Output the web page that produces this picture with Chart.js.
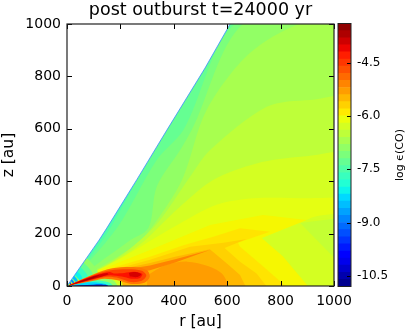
<!DOCTYPE html>
<html>
<head>
<meta charset="utf-8">
<script src="https://cdn.jsdelivr.net/npm/chart.js@4"></script>
<style>
  html, body { margin: 0; padding: 0; background: #fff; }
  #wrap { position: relative; width: 411px; height: 331px; overflow: hidden; }
  canvas { position: absolute; top: 0; }
  #field { left: 0; }
  #bar { left: 330px; }
</style>
</head>
<body>
<div id="wrap">
  <canvas id="field" width="401" height="331"></canvas>
  <canvas id="bar" width="81" height="331"></canvas>
</div>
<script>
const axisTicks = [0, 200, 400, 600, 800, 1000];
const barTicks = [-10.5, -9.0, -7.5, -6.0, -4.5];
const barLevels = [-10.7, -10.5, -10.3, -10.1, -9.9, -9.7, -9.5, -9.3, -9.1, -8.9, -8.7, -8.5, -8.3,
  -8.1, -7.9, -7.7, -7.5, -7.3, -7.1, -6.9, -6.7, -6.5, -6.3, -6.1, -5.9, -5.7, -5.5, -5.3, -5.1,
  -4.9, -4.7, -4.5, -4.3, -4.1, -3.9, -3.7, -3.5];

// the empty corner above the wedge, and its thin blue rim
const wedgeEdge = [[0, 0], [120, 175], [149, 221], [261, 405], [374, 595], [517, 832], [611, 1000]];
const emptyCorner = [...wedgeEdge, [611, 1100], [-50, 1100], [-50, 0]];

// filled contours, low to high, each painted over the one before
const ground = [[-10, -10], [1100, -10], [1100, 1100], [-10, 1100]];
const arc73 = [[0, 0], [140, 185], [260, 400], [350, 560], [625, 1010], [1100, 1010], [1100, 0]];
const arc71 = [[0, 0], [187, 221], [336, 481], [436, 595], [642, 1010], [1100, 1010], [1100, 0]];
const arc69 = [[0, 0], [230, 170], [305, 221], [336, 379], [424, 519], [467, 595], [673, 1010], [1100, 1010], [1100, 0]];
const arc67 = [[0, 0], [260, 160], [370, 300], [436, 417], [523, 672], [685, 889], [897, 1010], [1100, 1010], [1100, 0]];
const arc65 = [[0, 0], [180, 100], [330, 230], [461, 417], [536, 519], [748, 684], [910, 710], [1100, 710], [1100, 0]];
const arc63 = [[0, 0], [250, 140], [420, 300], [547, 405], [710, 468], [885, 494], [1100, 494], [1100, 0]];
const arc61 = [[0, 0], [200, 105], [400, 225], [560, 310], [700, 335], [900, 335], [1100, 330], [1100, 290], [897, 252], [810, 112], [910, -10], [0, -10]];
const rightWedge63 = [[729, 183], [897, 252], [1100, 270], [1100, -10], [910, -10], [810, 112]];
const rightWedge65 = [[873, 240], [1100, 270], [1100, 60], [997, 112]];
const arc59 = [[0, 0], [124, 61], [311, 137], [536, 233], [734, 271], [897, 252], [729, 183], [810, 112], [910, -10], [0, -10]];

// low fan around the origin, above the disk
const fan69 = [[125, 0], [112, 62], [75, 106], [38, 137], [0, 150]];
const fan73 = [[105, 0], [94, 52], [63, 89], [31, 115], [0, 126]];
const fan77 = [[85, 0], [76, 42], [51, 72], [25, 93], [0, 102]];
const fan81 = [[65, 0], [58, 32], [39, 55], [19, 71], [0, 78]];
const fan85 = [[45, 0], [40, 22], [27, 38], [13, 49], [0, 54]];
const fan89 = [[30, 0], [27, 15], [18, 25], [9, 33], [0, 36]];
const fan95 = [[18, 0], [16, 9], [11, 15], [5, 20], [0, 22]];

// disk surface and the warm dome under it
const disk57 = [[0, 0], [124, 55], [311, 112], [436, 156], [548, 188], [648, 220], [760, 207], [640, 165], [648, 150], [735, 74], [829, -10], [0, -10]];
const disk55 = [[0, 0], [150, 55], [311, 100], [461, 150], [586, 165], [673, 179], [590, 145], [648, 93], [710, 48], [754, -10], [0, -10]];
const disk53 = [[0, 0], [160, 55], [311, 88], [405, 112], [535, 140], [600, 85], [648, 42], [673, -10], [0, -10]];
const dome51 = [[300, 40], [370, 80], [450, 93], [530, 75], [585, 42], [598, -10], [300, -10]];
const streak51 = [[0, 0], [170, 55], [311, 78], [405, 102], [535, 137], [405, 90], [311, 60], [0, 0]];

// cold gap under the disk, near the midplane
const under63 = [[0, 0], [130, 35], [190, 40], [205, -10], [0, -10]];
const under69 = [[0, 0], [130, 28], [175, 20], [190, -10], [0, -10]];
const under77 = [[0, 0], [100, 22], [160, 12], [175, -10], [0, -10]];
const under83 = [[0, 0], [80, 14], [145, 8], [165, -10], [0, -10]];
const under103 = [[0, 0], [100, 5], [150, 3], [160, -10], [0, -10]];

// hot streak and blob
const hot49 = [[0, 0], [100, 45], [170, 68], [260, 72], [300, 60], [310, 35], [290, 12], [240, 8], [190, 22], [140, 28], [100, 20]];
const hot45 = [[0, 0], [100, 42], [165, 60], [230, 64], [280, 58], [297, 40], [280, 20], [240, 15], [195, 30], [150, 35], [100, 24]];
const hot41 = [[0, 0], [100, 39], [160, 53], [175, 48], [215, 50], [250, 54], [282, 46], [272, 30], [240, 28], [205, 36], [160, 41], [100, 27]];
const hot39 = [[0, 0], [100, 38], [150, 50], [155, 44], [100, 28]];
const blob39 = [[232, 50], [258, 53], [278, 44], [262, 34], [235, 36]];
const hot37 = [[0, 0], [100, 36], [120, 40], [100, 30]];

const bandShapes = [ground, arc73, arc71, arc69, arc67, arc65, arc63, arc61, rightWedge63, rightWedge65, arc59,
  fan69, fan73, fan77, fan81, fan85, fan89, fan95,
  disk57, disk55, disk53, dome51, streak51,
  under63, under69, under77, under83, under103,
  hot49, hot45, hot41, hot39, blob39, hot37];
const bandLevels = [-7.5, -7.3, -7.1, -6.9, -6.7, -6.5, -6.3, -6.15, -6.3, -6.45, -6.0,
  -6.9, -7.3, -7.7, -8.1, -8.5, -8.9, -9.5,
  -5.85, -5.7, -5.5, -5.3, -5.1,
  -6.3, -6.9, -7.7, -8.3, -10.3,
  -5.0, -4.6, -4.2, -3.95, -3.95, -3.7];
const sharpShapes = [ground, rightWedge63, rightWedge65, arc59, disk57, disk55, disk53, streak51];

// jet colours
function jet(level) {
  const t = (level + 10.8) / 7.4;
  const r = Math.min(1, Math.max(0, t < 0.89 ? (t - 0.35) / 0.31 : 1 - (t - 0.89) / 0.22));
  const g = Math.min(1, Math.max(0, t < 0.375 ? (t - 0.125) / 0.25 : (0.91 - t) / 0.27));
  const b = Math.min(1, Math.max(0, t < 0.11 ? 0.5 + t / 0.22 : (0.65 - t) / 0.31));
  return `rgb(${Math.round(r * 255)},${Math.round(g * 255)},${Math.round(b * 255)})`;
}

const toPoints = (pairs) => pairs.map(([x, y]) => ({ x, y }));

const datasets = bandShapes.map((shape, i) => ({
  data: toPoints(shape),
  showLine: true,
  fill: "shape",
  backgroundColor: jet(bandLevels[i]),
  borderWidth: 0,
  pointRadius: 0,
  tension: sharpShapes.includes(shape) ? 0 : 0.3,
  order: 1000 - i,
}));
datasets.push({
  data: toPoints(emptyCorner),
  showLine: true,
  fill: "shape",
  backgroundColor: "#ffffff",
  borderWidth: 0,
  pointRadius: 0,
  order: 3,
});
datasets.push({
  data: toPoints(wedgeEdge),
  showLine: true,
  fill: false,
  borderColor: "#3c8cff",
  borderWidth: 0.8,
  pointRadius: 0,
  order: 2,
});

const fontFamily = "'DejaVu Sans'";

const frame = {
  id: "frame",
  afterDraw(chart) {
    const { ctx, chartArea: a, scales } = chart;
    ctx.save();
    ctx.strokeStyle = "#000";
    ctx.lineWidth = 1;
    axisTicks.forEach((v) => {
      const px = Math.round(scales.x.getPixelForValue(v)) + 0.5;
      const py = Math.round(scales.y.getPixelForValue(v)) + 0.5;
      ctx.beginPath();
      ctx.moveTo(px, a.bottom); ctx.lineTo(px, a.bottom - 5);
      ctx.moveTo(px, a.top); ctx.lineTo(px, a.top + 5);
      ctx.moveTo(a.left, py); ctx.lineTo(a.left + 5, py);
      ctx.moveTo(a.right, py); ctx.lineTo(a.right - 5, py);
      ctx.stroke();
    });
    ctx.strokeStyle = "#222";
    ctx.lineWidth = 1.2;
    ctx.strokeRect(a.left, a.top, a.right - a.left, a.bottom - a.top);
    ctx.restore();
  },
};

new Chart(document.getElementById("field"), {
  type: "scatter",
  data: { datasets },
  plugins: [frame],
  options: {
    responsive: false,
    animation: false,
    plugins: {
      legend: { display: false },
      tooltip: { enabled: false },
      title: {
        display: true,
        text: "post outburst t=24000 yr",
        color: "#000",
        font: { family: fontFamily, size: 17.5, weight: "normal" },
        padding: { top: 0, bottom: 3 },
      },
    },
    scales: {
      x: {
        type: "linear",
        min: 0,
        max: 1000,
        afterFit: (s) => { s.height = 45; },
        afterBuildTicks: (s) => { s.ticks = axisTicks.map((value) => ({ value })); },
        grid: { display: false, drawTicks: false },
        border: { display: false },
        ticks: { color: "#000", padding: 7, maxRotation: 0, autoSkip: false, font: { family: fontFamily, size: 14 }, callback: (v) => String(v) },
        title: { display: true, text: "r [au]", color: "#000", padding: { top: 2, bottom: 0 }, font: { family: fontFamily, size: 15.5 } },
      },
      y: {
        type: "linear",
        min: 0,
        max: 1000,
        afterFit: (s) => { s.width = 67; },
        afterBuildTicks: (s) => { s.ticks = axisTicks.map((value) => ({ value })); },
        grid: { display: false, drawTicks: false },
        border: { display: false },
        ticks: { color: "#000", padding: 6, autoSkip: false, font: { family: fontFamily, size: 14 }, callback: (v) => String(v) },
        title: { display: true, text: "z [au]", color: "#000", padding: { top: 0, bottom: 2 }, font: { family: fontFamily, size: 15.5 } },
      },
      // keeps the room for the colour bar and the title centred over the plot
      spacer: {
        type: "linear",
        position: "right",
        afterFit: (s) => { s.width = 67; },
        grid: { display: false, drawTicks: false },
        border: { display: false },
        ticks: { display: false },
      },
    },
  },
});

const barFrame = {
  id: "barFrame",
  afterDraw(chart) {
    const { ctx, chartArea: a, scales } = chart;
    ctx.save();
    ctx.strokeStyle = "#000";
    ctx.lineWidth = 1;
    barTicks.forEach((v) => {
      const py = Math.round(scales.y.getPixelForValue(v)) + 0.5;
      ctx.beginPath();
      ctx.moveTo(a.right, py); ctx.lineTo(a.right - 4, py);
      ctx.stroke();
    });
    ctx.strokeStyle = "#222";
    ctx.strokeRect(a.left, a.top, a.right - a.left, a.bottom - a.top);
    // rotated the other way from what a right-hand axis title gives
    ctx.translate(70, 155);
    ctx.rotate(-Math.PI / 2);
    ctx.fillStyle = "#000";
    ctx.font = `11px ${fontFamily}`;
    ctx.textAlign = "center";
    ctx.textBaseline = "middle";
    ctx.fillText("log \u03f5(CO)", 0, 0);
    ctx.restore();
  },
};

new Chart(document.getElementById("bar"), {
  type: "bar",
  data: {
    labels: ["log \u03f5(CO)"],
    datasets: barLevels.map((level) => ({
      data: [[level - 0.1, level + 0.1]],
      backgroundColor: jet(level),
      borderWidth: 0,
      grouped: false,
      barPercentage: 1,
      categoryPercentage: 1,
    })),
  },
  plugins: [barFrame],
  options: {
    responsive: false,
    animation: false,
    layout: { padding: { left: 8, top: 23.5, bottom: 44.5 } },
    plugins: { legend: { display: false }, tooltip: { enabled: false } },
    scales: {
      x: { display: false },
      y: {
        position: "right",
        min: -10.8,
        max: -3.4,
        afterFit: (s) => { s.width = 60; },
        afterBuildTicks: (s) => { s.ticks = barTicks.map((value) => ({ value })); },
        grid: { display: false, drawTicks: false },
        border: { display: false },
        ticks: { color: "#000", padding: 6, autoSkip: false, font: { family: fontFamily, size: 12 }, callback: (v) => v.toFixed(1) },
      },
    },
  },
});
</script>
</body>
</html>
